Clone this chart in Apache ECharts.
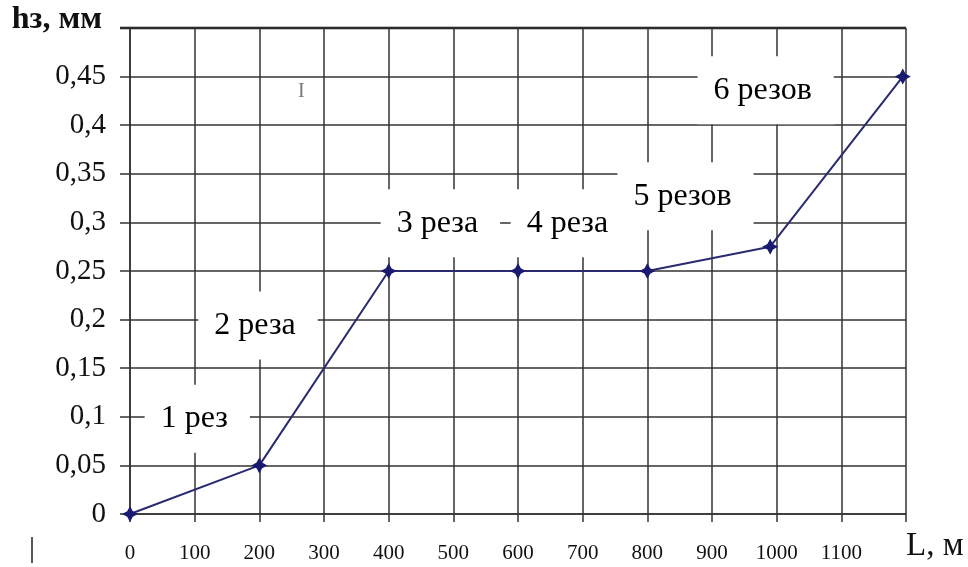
<!DOCTYPE html>
<html>
<head>
<meta charset="utf-8">
<script src="https://cdn.jsdelivr.net/npm/echarts@6/dist/echarts.min.js"></script>
<style>
    html, body { margin: 0; padding: 0; background: #fff; }
    #chart { width: 968px; height: 567px; }
</style>
</head>
<body>
<div id="chart"></div>
<script>
// путь L, м и износ hз, мм
var lengthM = [0, 200, 400, 600, 800, 990, 1195];
var wearMm = [0, 0.05, 0.25, 0.25, 0.25, 0.275, 0.45];

// подписи числа резов (в координатах графика)
var cutNames = ["1 рез", "2 реза", "3 реза", "4 реза", "5 резов", "6 резов"];
var cutX = [104, 198, 480, 681, 859, 983];
var cutY = [0.098, 0.194, 0.299, 0.299, 0.327, 0.436];

var chart = echarts.init(document.getElementById("chart"));
var fontName = "Liberation Serif";
var gridColor = "#333";
var lineColor = "#2a2a70";

var cutData = [];
for (var i = 0; i < cutNames.length; i++) {
    cutData.push([cutX[i], cutY[i], cutNames[i]]);
}
var lineData = [];
for (var j = 0; j < lengthM.length; j++) {
    lineData.push([lengthM[j], wearMm[j]]);
}

var option = {
    animation: false,
    backgroundColor: "#fff",
    grid: {
        left: 130,
        right: 62,
        top: 28,
        bottom: 53
    },
    xAxis: {
        type: "value",
        min: 0,
        max: 1200,
        interval: 100,
        name: "L, м",
        nameLocation: "end",
        nameGap: 0,
        nameTextStyle: {
            fontFamily: fontName,
            fontSize: 33,
            color: "#111",
            align: "left",
            verticalAlign: "top",
            padding: [16, 0, 0, 0]
        },
        axisLine: { show: true, lineStyle: { color: gridColor, width: 1.5 } },
        axisTick: { show: true, length: 8, lineStyle: { color: gridColor, width: 1.5 } },
        axisLabel: {
            fontFamily: fontName,
            fontSize: 21,
            color: "#111",
            margin: 29,
            formatter: function (v) {
                return v === 1200 ? "" : String(v);
            }
        },
        splitLine: { show: true, lineStyle: { color: gridColor, width: 1.5 } }
    },
    yAxis: {
        type: "value",
        min: 0,
        max: 0.5,
        interval: 0.05,
        name: "hз, мм",
        nameLocation: "end",
        nameGap: 8,
        nameTextStyle: {
            fontFamily: fontName,
            fontSize: 32,
            fontWeight: "bold",
            color: "#111",
            align: "right",
            verticalAlign: "middle",
            padding: [0, 28, 0, 0]
        },
        axisLine: { show: true, lineStyle: { color: gridColor, width: 1.5 } },
        axisTick: { show: true, length: 10, lineStyle: { color: gridColor, width: 1.5 } },
        axisLabel: {
            fontFamily: fontName,
            fontSize: 29,
            color: "#111",
            margin: 24,
            formatter: function (v) {
                if (v > 0.48) return "";
                return String(parseFloat(v.toFixed(2))).replace(".", ",");
            }
        },
        splitLine: { show: true, lineStyle: { color: gridColor, width: 1.5 } }
    },
    graphic: [
        {
            type: "line",
            shape: { x1: 120, y1: 28, x2: 906, y2: 28 },
            style: { stroke: "#111", lineWidth: 2.5 }
        },
        {
            type: "text",
            left: 298,
            top: 82,
            style: { text: "I", font: "20px " + fontName, fill: "#777" }
        },
        {
            type: "text",
            left: 29,
            top: 534,
            style: { text: "|", font: "30px " + fontName, fill: "#222" }
        }
    ],
    series: [
        {
            name: "подписи",
            type: "scatter",
            z: 1,
            symbolSize: 0,
            silent: true,
            itemStyle: { opacity: 1 },
            data: cutData,
            label: {
                show: true,
                position: "inside",
                formatter: function (p) {
                    return p.data[2];
                },
                fontFamily: fontName,
                fontSize: 32,
                color: "#000",
                backgroundColor: "#fff",
                padding: [26, 22, 10, 16]
            }
        },
        {
            name: "hз",
            type: "line",
            z: 3,
            data: lineData,
            symbol: "path://M0,-10 L3.5,-3.5 L10,0 L3.5,3.5 L0,10 L-3.5,3.5 L-10,0 L-3.5,-3.5 Z",
            symbolSize: 16,
            itemStyle: { color: "#1a1a70" },
            lineStyle: { color: lineColor, width: 2 }
        }
    ]
};

chart.setOption(option);
</script>
</body>
</html>
